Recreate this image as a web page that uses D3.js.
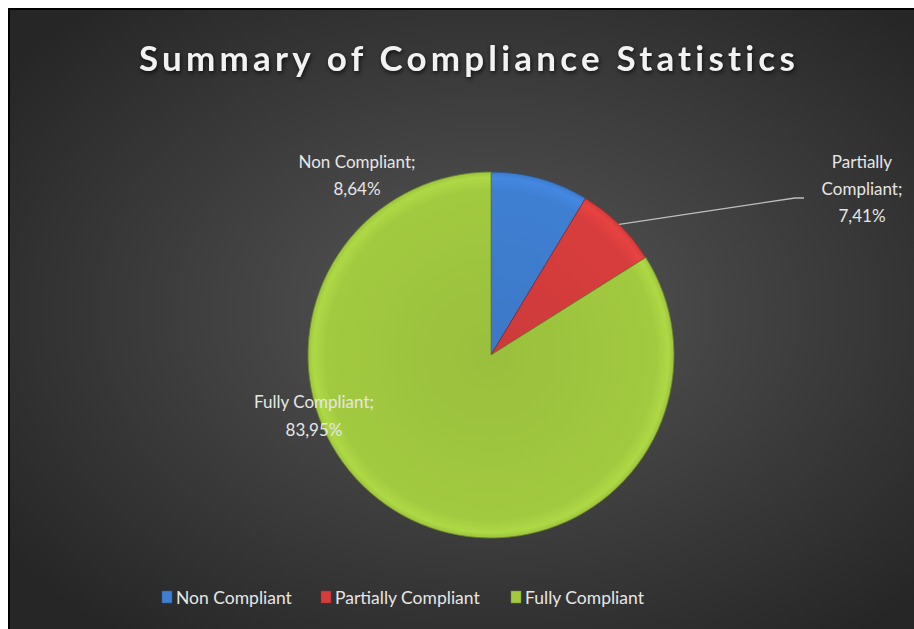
<!DOCTYPE html>
<html>
<head>
<meta charset="utf-8">
<script src="https://cdn.jsdelivr.net/npm/d3@7"></script>
<style>
  body { margin: 0; background: #fff; }
  svg text { font-family: Lato, "Noto Sans", sans-serif; }
</style>
</head>
<body>
<div id="chart"></div>
<script>
const categories = ["Non Compliant", "Partially Compliant", "Fully Compliant"];
const values = [8.64, 7.41, 83.95];
const pctLabels = ["8,64%", "7,41%", "83,95%"];
const colors = ["#3f7fd2", "#d83d3d", "#a2ca40"];

const W = 914, H = 629;
const box = { x: 9, y: 9, w: 920, h: 630 };

const svg = d3.select("#chart").append("svg")
    .attr("width", W).attr("height", H);

const defs = svg.append("defs");
const bg = defs.append("radialGradient").attr("id", "bg")
    .attr("cx", "52%").attr("cy", "48%").attr("r", "65%");
bg.append("stop").attr("offset", "0%").attr("stop-color", "#575757");
bg.append("stop").attr("offset", "100%").attr("stop-color", "#262626");

// slice shading, a soft bevel near the rim
colors.forEach((c, i) => {
    const g = defs.append("radialGradient").attr("id", "sl" + i)
        .attr("gradientUnits", "userSpaceOnUse")
        .attr("cx", 0).attr("cy", 0).attr("r", 183);
    g.append("stop").attr("offset", "0%").attr("stop-color", d3.color(c).darker(0.15));
    g.append("stop").attr("offset", "90%").attr("stop-color", c);
    g.append("stop").attr("offset", "97%").attr("stop-color", d3.color(c).brighter(0.2));
    g.append("stop").attr("offset", "100%").attr("stop-color", d3.color(c).darker(0.1));
});

svg.append("rect")
    .attr("x", box.x).attr("y", box.y)
    .attr("width", box.w).attr("height", box.h)
    .attr("fill", "url(#bg)")
    .attr("stroke", "#000").attr("stroke-width", 2);

svg.append("text")
    .attr("x", 469).attr("y", 71)
    .attr("text-anchor", "middle")
    .attr("font-size", 35).attr("font-weight", "bold")
    .attr("letter-spacing", 4.2)
    .attr("fill", "#f2f2f2")
    .style("filter", "drop-shadow(1px 2px 2px rgba(0,0,0,0.7))")
    .text("Summary of Compliance Statistics");

const cx = 491, cy = 355, r = 183;
const pie = d3.pie().sort(null).value(d => d)(values);
const arc = d3.arc().innerRadius(0).outerRadius(r);

const g = svg.append("g").attr("transform", `translate(${cx},${cy})`);
g.selectAll("path")
    .data(pie)
    .join("path")
    .attr("d", arc)
    .attr("fill", (d, i) => `url(#sl${i})`)
    .attr("stroke", (d, i) => d3.color(colors[i]).darker(1.2))
    .attr("stroke-width", 0.8);

// data labels
const lab = svg.append("g").attr("fill", "#e6e6e6").attr("font-size", 17);
function label(lines, x, y, step) {
    const t = lab.append("text").attr("text-anchor", "middle");
    lines.forEach((l, i) => t.append("tspan").attr("x", x).attr("y", y + i * step).text(l));
}
label([categories[0] + ";", pctLabels[0]], 357, 168, 27);
label(["Partially", "Compliant;", pctLabels[1]], 862, 168, 27);
label(["Fully Compliant;", pctLabels[2]], 314, 408, 28);

// leader line for the red slice, from the rim
const mid = (pie[1].startAngle + pie[1].endAngle) / 2;
const p0 = [cx + Math.sin(mid) * r, cy - Math.cos(mid) * r];
svg.append("polyline")
    .attr("points", [p0, [795, 198], [804, 198]].map(p => p.join(",")).join(" "))
    .attr("fill", "none").attr("stroke", "#bfbfbf").attr("stroke-width", 1.3);

// legend
const legX = [162, 321, 511];
const leg = svg.append("g").attr("font-size", 17.5).attr("fill", "#e6e6e6");
categories.forEach((c, i) => {
    leg.append("rect")
        .attr("x", legX[i]).attr("y", 591)
        .attr("width", 10).attr("height", 12)
        .attr("fill", colors[i])
        .attr("stroke", d3.color(colors[i]).darker(1)).attr("stroke-width", 0.5);
    leg.append("text")
        .attr("x", legX[i] + 14).attr("y", 604)
        .text(c);
});
</script>
</body>
</html>
